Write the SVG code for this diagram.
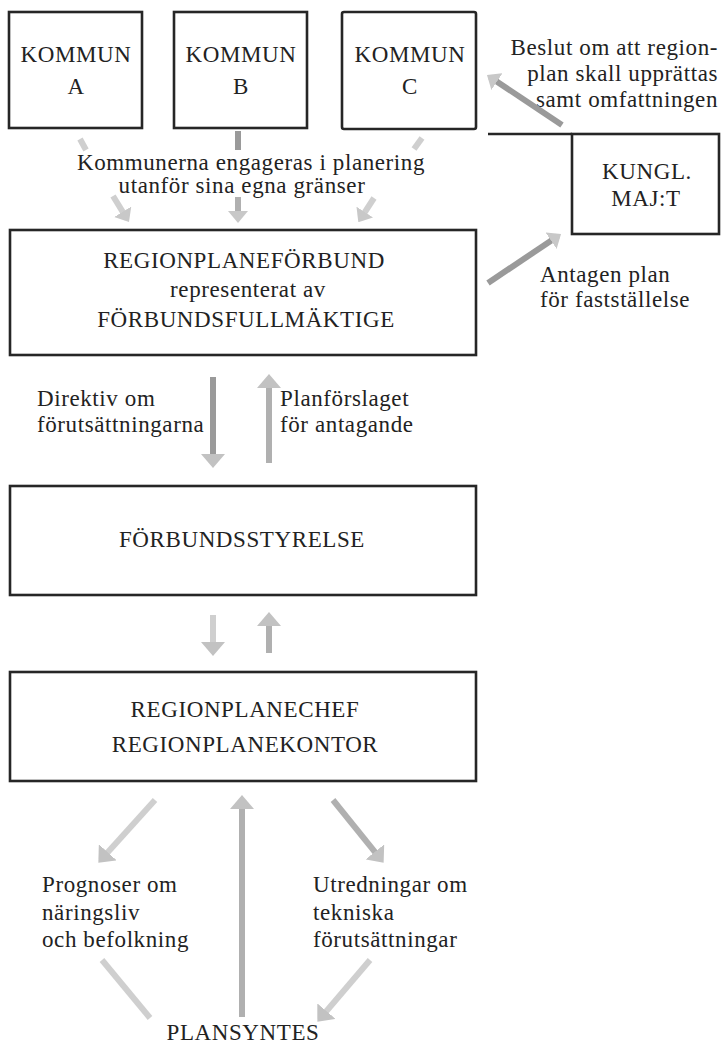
<svg xmlns="http://www.w3.org/2000/svg" width="722" height="1044" viewBox="0 0 722 1044">
<style>
  .bg{fill:#ffffff}
  .box{fill:none;stroke:#262626;stroke-width:2.6}
  .t{font-family:"Liberation Serif","Times New Roman",serif;font-size:23px;fill:#222;letter-spacing:0.6px}
  .c{text-anchor:middle}
  .e{text-anchor:end}
  .sh{fill:none;stroke:#b0b0b0;stroke-width:6;stroke-linecap:butt}
  .shd{fill:none;stroke:#9a9a9a;stroke-width:6;stroke-linecap:butt}
  .shl{fill:none;stroke:#cfcfcf;stroke-width:6;stroke-linecap:butt}
</style>
<defs>
  <marker id="ah" markerUnits="userSpaceOnUse" markerWidth="14" markerHeight="24" refX="9" refY="12" orient="auto" viewBox="0 0 14 24">
    <path d="M0,0 L14,12 L0,24 Z" fill="#c2c2c2"/>
  </marker>
  <marker id="ahs" markerUnits="userSpaceOnUse" markerWidth="12" markerHeight="20" refX="8" refY="10" orient="auto" viewBox="0 0 12 20">
    <path d="M0,0 L12,10 L0,20 Z" fill="#c8c8c8"/>
  </marker>
</defs>
<rect class="bg" x="0" y="0" width="722" height="1044"/>

<g id="kommun-a">
  <rect class="box" x="9" y="12" width="133" height="116"/>
  <text class="t c" x="76" y="62" letter-spacing="1">KOMMUN</text>
  <text class="t c" x="76" y="94">A</text>
</g>
<g id="kommun-b">
  <rect class="box" x="174" y="12" width="133" height="116"/>
  <text class="t c" x="241" y="62" letter-spacing="1">KOMMUN</text>
  <text class="t c" x="241" y="94">B</text>
</g>
<g id="kommun-c">
  <rect class="box" x="342" y="12" width="134" height="117" rx="2" stroke-width="2.2"/>
  <text class="t c" x="410" y="62" letter-spacing="1">KOMMUN</text>
  <text class="t c" x="410" y="94">C</text>
</g>
<g id="beslut-text">
  <text class="t e" x="718" y="55">Beslut om att region-</text>
  <text class="t e" x="718" y="81">plan skall upprättas</text>
  <text class="t e" x="718" y="107">samt omfattningen</text>
</g>
<g id="kungl-majt">
  <line x1="488" y1="134" x2="572" y2="134" stroke="#262626" stroke-width="2.6"/>
  <rect class="box" x="572" y="134" width="147" height="100"/>
  <text class="t c" x="647" y="179">KUNGL.</text>
  <text class="t c" x="646" y="206">MAJ:T</text>
</g>
<g id="kommunerna-text">
  <text class="t c" x="251" y="170">Kommunerna  engageras i planering</text>
  <text class="t c" x="242" y="193">utanför sina egna gränser</text>
</g>
<g id="regionplaneforbund">
  <rect class="box" x="10" y="230" width="466" height="125"/>
  <text class="t c" x="244" y="268">REGIONPLANEFÖRBUND</text>
  <text class="t c" x="248" y="297">representerat av</text>
  <text class="t c" x="246" y="327">FÖRBUNDSFULLMÄKTIGE</text>
</g>
<g id="antagen-text">
  <text class="t" x="540" y="282">Antagen plan</text>
  <text class="t" x="540" y="307">för fastställelse</text>
</g>
<g id="direktiv-text">
  <text class="t" x="37" y="406">Direktiv om</text>
  <text class="t" x="37" y="432">förutsättningarna</text>
</g>
<g id="planforslaget-text">
  <text class="t" x="280" y="406">Planförslaget</text>
  <text class="t" x="280" y="432">för antagande</text>
</g>
<g id="forbundsstyrelse">
  <rect class="box" x="10" y="486" width="466" height="109"/>
  <text class="t c" x="242" y="547">FÖRBUNDSSTYRELSE</text>
</g>
<g id="regionplanechef">
  <rect class="box" x="10" y="672" width="466" height="109"/>
  <text class="t c" x="245" y="717">REGIONPLANECHEF</text>
  <text class="t c" x="245" y="752">REGIONPLANEKONTOR</text>
</g>
<g id="prognoser">
  <text class="t" x="42" y="892">Prognoser om</text>
  <text class="t" x="42" y="920">näringsliv</text>
  <text class="t" x="42" y="947">och befolkning</text>
</g>
<g id="utredningar">
  <text class="t" x="313" y="892">Utredningar om</text>
  <text class="t" x="313" y="920">tekniska</text>
  <text class="t" x="313" y="947">förutsättningar</text>
</g>
<g id="plansyntes">
  <text class="t c" x="243" y="1040">PLANSYNTES</text>
</g>

<g id="connectors">
  <line class="shd" x1="562" y1="125" x2="490.3" y2="77.2" stroke-width="5" marker-end="url(#ahs)"/>
  <line class="shd" x1="488" y1="283" x2="557.7" y2="236.2" stroke-width="5" marker-end="url(#ahs)"/>
  <line class="shl" x1="80" y1="139" x2="86" y2="150"/>
  <line class="shd" x1="238" y1="131" x2="238" y2="150" stroke-width="4"/>
  <line class="shl" x1="422" y1="138" x2="414" y2="149"/>
  <line class="shl" x1="113" y1="196" x2="126.9" y2="218.6" marker-end="url(#ahs)"/>
  <line class="sh" x1="238" y1="197" x2="238" y2="219" marker-end="url(#ahs)"/>
  <line class="shl" x1="374" y1="198" x2="360.5" y2="218.8" marker-end="url(#ahs)"/>
  <line class="shd" x1="213" y1="377" x2="213" y2="463" marker-end="url(#ah)"/>
  <line class="sh" x1="269" y1="463" x2="269" y2="379" marker-end="url(#ah)"/>
  <line class="shl" x1="213" y1="615" x2="213" y2="651" marker-end="url(#ah)"/>
  <line class="sh" x1="269" y1="653" x2="269" y2="617" marker-end="url(#ah)"/>
  <line class="shl" x1="155" y1="800" x2="101.7" y2="859" marker-end="url(#ah)"/>
  <line class="sh" x1="333" y1="800" x2="380.5" y2="858.9" marker-end="url(#ah)"/>
  <line class="sh" x1="242" y1="1017" x2="242" y2="800" marker-end="url(#ah)"/>
  <line class="shl" x1="102" y1="960" x2="150" y2="1018"/>
  <line class="shl" x1="370" y1="960" x2="320.6" y2="1018" marker-end="url(#ah)"/>
</g>
</svg>
